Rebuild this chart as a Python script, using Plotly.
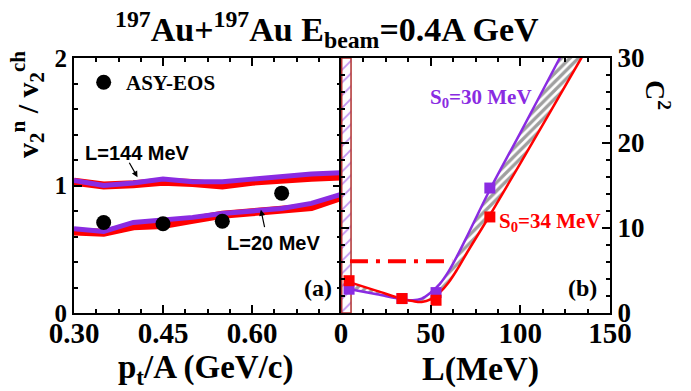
import plotly.graph_objects as go

# ---------------- data ----------------
# panel (a): v2n/v2ch vs pt/A
pt = [0.30, 0.35, 0.40, 0.45, 0.50, 0.55, 0.60, 0.65, 0.70, 0.75]
l144_purple = [1.04, 1.00, 1.02, 1.05, 1.03, 1.03, 1.05, 1.07, 1.09, 1.10]
l144_red = [1.03, 1.00, 1.01, 1.03, 1.02, 1.00, 1.03, 1.05, 1.06, 1.07]
l20_purple = [0.66, 0.64, 0.71, 0.73, 0.75, 0.78, 0.80, 0.82, 0.86, 0.93]
l20_red = [0.64, 0.63, 0.68, 0.69, 0.73, 0.77, 0.79, 0.81, 0.83, 0.91]
asy_pt = [0.35, 0.45, 0.55, 0.65]
asy_ratio = [0.71, 0.70, 0.72, 0.94]
legend_pt = [0.35]
legend_ratio = [1.81]

# panel (b): C2 vs L
L_purple = [5, 20, 35, 40, 45, 50, 55, 60, 65, 70, 83, 100, 122, 132]
C_purple = [2.8, 2.2, 1.6, 1.5, 1.7, 2.4, 3.4, 4.9, 6.8, 8.9, 14.5, 21.2, 30.0, 34.0]
L_red = [5, 20, 35, 40, 45, 50, 55, 60, 65, 70, 83, 100, 134, 145]
C_red = [3.6, 2.6, 1.6, 1.4, 1.3, 1.6, 2.4, 3.6, 5.2, 7.0, 11.5, 17.6, 30.0, 34.0]
sq_L = [4.5, 34, 53, 83]
sq_purple = [2.8, 1.7, 2.4, 14.7]
sq_red = [3.8, 1.7, 1.5, 11.3]
dashdot_L = [5, 62]
dashdot_C = [6.1, 6.1]
strip_L = [0.4, 5.6]

PURPLE = "#8A2BE2"
RED = "#FF0000"
SERIF = "Liberation Serif, Times New Roman, serif"
SANS = "Liberation Sans, Arial, sans-serif"

fig = go.Figure()

# ---- panel (a) ----
for yr, yp in ((l144_red, l144_purple), (l20_red, l20_purple)):
    fig.add_trace(go.Scatter(x=pt, y=yr, mode="lines", line=dict(color=RED, width=8),
                             xaxis="x", yaxis="y", showlegend=False))
    fig.add_trace(go.Scatter(x=pt, y=yp, mode="lines", line=dict(color=PURPLE, width=5),
                             xaxis="x", yaxis="y", showlegend=False))
fig.add_trace(go.Scatter(x=asy_pt, y=asy_ratio, mode="markers",
                         marker=dict(color="black", size=15), xaxis="x", yaxis="y", showlegend=False))
fig.add_trace(go.Scatter(x=legend_pt, y=legend_ratio, mode="markers",
                         marker=dict(color="black", size=15), xaxis="x", yaxis="y", showlegend=False))

# ---- panel (b) ----
# hatched strip near L=0
fig.add_trace(go.Scatter(x=[strip_L[0], strip_L[1], strip_L[1], strip_L[0], strip_L[0]],
                         y=[0, 0, 30, 30, 0], mode="lines", fill="toself",
                         fillcolor="white",
                         fillpattern=dict(shape="/", fgcolor=PURPLE, bgcolor="white", size=9, solidity=0.2),
                         line=dict(color="#B03030", width=1.5),
                         xaxis="x2", yaxis="y2", showlegend=False))
# gray hatched band between the curves
band_x = L_purple + L_red[::-1]
band_y = C_purple + C_red[::-1]
fig.add_trace(go.Scatter(x=band_x, y=band_y, mode="lines", fill="toself", fillcolor="white",
                         fillpattern=dict(shape="/", fgcolor="#404040", bgcolor="white", size=6, solidity=0.55),
                         line=dict(width=0, shape="spline"), xaxis="x2", yaxis="y2", showlegend=False))
fig.add_trace(go.Scatter(x=dashdot_L, y=dashdot_C, mode="lines",
                         line=dict(color=RED, width=4, dash="18px,8px,4px,8px"),
                         xaxis="x2", yaxis="y2", showlegend=False))
fig.add_trace(go.Scatter(x=L_purple, y=C_purple, mode="lines",
                         line=dict(color=PURPLE, width=2.5, shape="spline"),
                         xaxis="x2", yaxis="y2", showlegend=False))
fig.add_trace(go.Scatter(x=L_red, y=C_red, mode="lines",
                         line=dict(color=RED, width=2.5, shape="spline"),
                         xaxis="x2", yaxis="y2", showlegend=False))
fig.add_trace(go.Scatter(x=sq_L, y=sq_purple, mode="markers",
                         marker=dict(color=PURPLE, size=11, symbol="square"),
                         xaxis="x2", yaxis="y2", showlegend=False))
fig.add_trace(go.Scatter(x=sq_L, y=sq_red, mode="markers",
                         marker=dict(color=RED, size=11, symbol="square"),
                         xaxis="x2", yaxis="y2", showlegend=False))

# ---------------- layout ----------------
L_, R_, T_, B_ = 74, 81, 58, 78
W, H = 691, 391
PW, PH = W - L_ - R_, H - T_ - B_
split = (341 - L_) / PW


def px(x):
    return (x - L_) / PW


def py(y):
    return (H - B_ - y) / PH


axis_common = dict(showline=True, linecolor="black", linewidth=2, mirror="ticks",
                   ticks="inside", ticklen=8, tickwidth=1.5, tickcolor="black",
                   showgrid=False, zeroline=False)

fig.update_layout(
    width=W, height=H, margin=dict(l=L_, r=R_, t=T_, b=B_),
    paper_bgcolor="white", plot_bgcolor="white", showlegend=False,
    xaxis=dict(domain=[0, split], range=[0.30, 0.75], tickvals=[0.30, 0.45, 0.60],
               ticktext=["0.30", "0.45", "0.60"], ticklabelstandoff=-7,
               minor=dict(dtick=0.0375, tick0=0.30, ticks="inside", ticklen=4, tickcolor="black"),
               tickfont=dict(family=SERIF, size=29, color="black", weight="bold"),
               anchor="y", **axis_common),
    yaxis=dict(domain=[0, 1], range=[0, 2], tickvals=[0, 1, 2],
               minor=dict(dtick=0.2, ticks="inside", ticklen=4, tickcolor="black"),
               tickfont=dict(family=SERIF, size=25, color="black", weight="bold"),
               anchor="x", **axis_common),
    xaxis2=dict(domain=[split, 1], range=[0, 150], tickvals=[0, 50, 100, 150], ticklabelstandoff=-7,
                minor=dict(dtick=12.5, tick0=0, ticks="inside", ticklen=4, tickcolor="black"),
                tickfont=dict(family=SERIF, size=29, color="black", weight="bold"),
                anchor="y2", **axis_common),
    yaxis2=dict(domain=[0, 1], range=[0, 30], tickvals=[0, 10, 20, 30], side="right",
                minor=dict(dtick=2, ticks="inside", ticklen=4, tickcolor="black"),
                tickfont=dict(family=SERIF, size=27, color="black", weight="bold"),
                anchor="x2", **axis_common),
)

ann = []


def txt(x, y, s, size, color="black", family=SERIF, angle=0, xanchor="center"):
    ann.append(dict(x=px(x), y=py(y), xref="paper", yref="paper", text=s, showarrow=False,
                    font=dict(family=family, size=size, color=color, weight="bold"),
                    textangle=angle, xanchor=xanchor, yanchor="middle"))


txt(327, 30, "<sup>197</sup>Au+<sup>197</sup>Au E<sub>beam</sub>=0.4A GeV", 34)
txt(27, 105, "v<sub>2</sub><sup>n</sup> / v<sub>2</sub><sup>ch</sup>", 30, angle=-90)
txt(658, 95, "C<sup>2</sup>", 28, angle=90)
txt(205, 369, "p<sub>t</sub>/A (GeV/c)", 33)
txt(480, 369, "L(MeV)", 34)
txt(124, 83, "ASY-EOS", 21, xanchor="left")
txt(318, 288, "(a)", 24)
txt(582, 288, "(b)", 24)
txt(481, 98, "S<sub>0</sub>=30 MeV", 21, color=PURPLE)
txt(550, 222, "S<sub>0</sub>=34 MeV", 21, color=RED)
txt(137, 153, "L=144 MeV", 20, family=SANS)
txt(273, 243, "L=20 MeV", 20, family=SANS)

# arrows
ann.append(dict(x=0.407, y=1.065, xref="x", yref="y", ax=-9, ay=-16, text="", showarrow=True,
                arrowhead=2, arrowsize=1, arrowwidth=1.2, arrowcolor="black"))
ann.append(dict(x=0.615, y=0.81, xref="x", yref="y", ax=4, ay=19, text="", showarrow=True,
                arrowhead=2, arrowsize=1, arrowwidth=1.2, arrowcolor="black"))

fig.update_layout(annotations=ann)
fig.write_html("out.html")
